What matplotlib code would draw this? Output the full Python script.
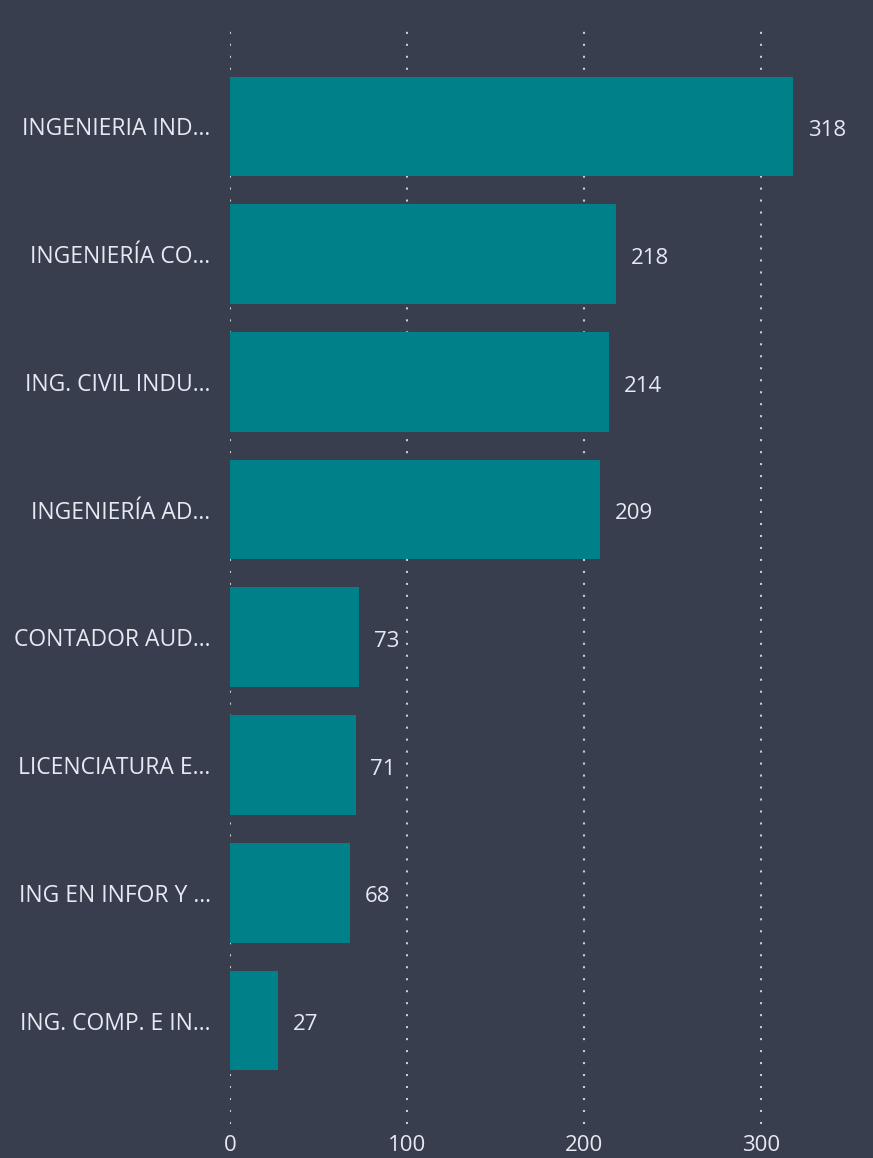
import matplotlib.pyplot as plt

# datos
carreras = ['INGENIERIA IND...', 'INGENIERÍA CO...', 'ING. CIVIL INDU...', 'INGENIERÍA AD...',
            'CONTADOR AUD...', 'LICENCIATURA E...', 'ING EN INFOR Y ...', 'ING. COMP. E IN...']
cantidades = [318, 218, 214, 209, 73, 71, 68, 27]
ticks_x = [0, 100, 200, 300]

fondo = '#393e4f'
barra = '#00818a'
texto = '#e4e9f2'

plt.rcParams['font.family'] = ['Open Sans', 'DejaVu Sans']

fig = plt.figure(figsize=(8.73, 11.58), dpi=100, facecolor=fondo)
ax = fig.add_axes([230 / 873, 1 - 1124 / 1158, 643 / 873, 1096 / 1158])
ax.set_facecolor(fondo)

pos = list(range(len(carreras)))
ax.barh(pos, cantidades, height=0.78, color=barra, zorder=2)

for p, v in zip(pos, cantidades):
    ax.annotate(str(v), (v, p), xytext=(10.5, -3), textcoords='offset points',
                va='center', ha='left', color=texto, fontsize=16)

ax.set_xlim(0, 363)
ax.set_ylim(7.81, -0.77)
ax.set_yticks(pos)
ax.set_yticklabels(carreras)
ax.set_xticks(ticks_x)
ax.tick_params(axis='both', length=0, colors=texto, labelsize=16)
ax.tick_params(axis='y', labelsize=16.5, pad=14)
ax.tick_params(axis='x', pad=8)
ax.grid(axis='x', color='#c8ccd4', linestyle=(0, (1, 4.75)), linewidth=1.5, zorder=1)
for s in ax.spines.values():
    s.set_visible(False)

plt.savefig('out.png', facecolor=fondo)
